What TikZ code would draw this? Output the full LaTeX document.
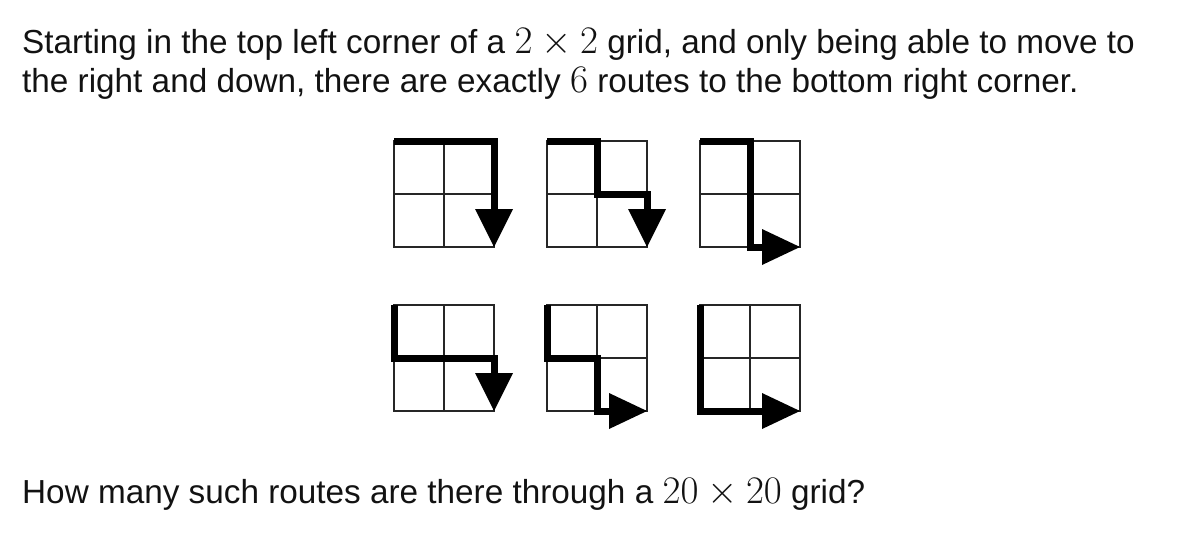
\RequirePackage{fix-cm}
\documentclass[tikz,border=0pt]{standalone}
\usepackage{fontspec}
\setmainfont{Liberation Sans}
\newcommand{\mth}[1]{{\fontsize{39}{39}\selectfont$#1$}}
\begin{document}
\begin{tikzpicture}[x=1pt,y=-1pt,
  txt/.style={anchor=base west,inner sep=0pt,font=\fontsize{33.3}{39}\selectfont,text=black!93},
  gridline/.style={line width=1.6pt,draw=black!85},
  route/.style={line width=7pt,line join=miter,line cap=butt},
  tip/.style={fill=black}]
\useasboundingbox (0,0) rectangle (1186,550);
\node[txt] (l1) at (22,53) {Starting in the top left corner of a \mth{2\times2} grid, and only being able to move to};
\node[txt] (l2) at (22,92) {the right and down, there are exactly \mth{6} routes to the bottom right corner.};
\node[txt] (l3) at (22,503) {How many such routes are there through a \mth{20\times20} grid?};
% grids: cells 50pt x 53pt
\foreach \gx/\gy/\r in {394/141/1,547/141/2,700/141/3,394/305/4,547/305/5,700/305/6}{
  \begin{scope}[shift={(\gx,\gy)},x=50pt,y=-53pt]
    \draw[gridline] (0,0) rectangle (2,2) (1,0) -- (1,2) (0,1) -- (2,1);
    \ifcase\r\or
      \draw[route] (0,0) -- (2,0) -- ([yshift=36pt]2,2);
      \fill[tip] ([xshift=-19pt,yshift=38pt]2,2) -- ([xshift=19pt,yshift=38pt]2,2) -- (2,2) -- cycle;
    \or
      \draw[route] (0,0) -- (1,0) -- (1,1) -- (2,1) -- ([yshift=36pt]2,2);
      \fill[tip] ([xshift=-19pt,yshift=38pt]2,2) -- ([xshift=19pt,yshift=38pt]2,2) -- (2,2) -- cycle;
    \or
      \draw[route] (0,0) -- (1,0) -- (1,2) -- ([xshift=-36pt]2,2);
      \fill[tip] ([xshift=-38pt,yshift=18pt]2,2) -- ([xshift=-38pt,yshift=-18pt]2,2) -- (2,2) -- cycle;
    \or
      \draw[route] (0,0) -- (0,1) -- (2,1) -- ([yshift=36pt]2,2);
      \fill[tip] ([xshift=-19pt,yshift=38pt]2,2) -- ([xshift=19pt,yshift=38pt]2,2) -- (2,2) -- cycle;
    \or
      \draw[route] (0,0) -- (0,1) -- (1,1) -- (1,2) -- ([xshift=-36pt]2,2);
      \fill[tip] ([xshift=-38pt,yshift=18pt]2,2) -- ([xshift=-38pt,yshift=-18pt]2,2) -- (2,2) -- cycle;
    \or
      \draw[route] (0,0) -- (0,2) -- ([xshift=-36pt]2,2);
      \fill[tip] ([xshift=-38pt,yshift=18pt]2,2) -- ([xshift=-38pt,yshift=-18pt]2,2) -- (2,2) -- cycle;
    \fi
  \end{scope}
}
\end{tikzpicture}
\end{document}
